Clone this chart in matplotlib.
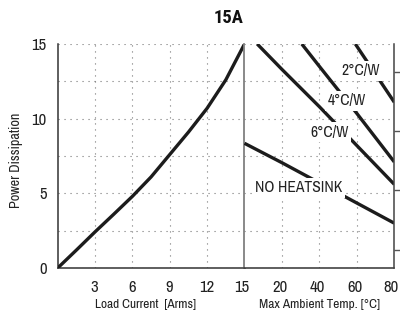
import numpy as np
import matplotlib
matplotlib.use("Agg")
import matplotlib.pyplot as plt
from matplotlib import font_manager as fm
from matplotlib.transforms import offset_copy

# ---------------- data ----------------
title = "15A"
# left panel: power dissipation vs load current
load_current = [0, 1.5, 3, 4.5, 6, 7.5, 9, 10.5, 12, 13.5, 15]
power_curve = [0, 1.2, 2.42, 3.6, 4.8, 6.1, 7.6, 9.1, 10.7, 12.6, 15]
left_xticks = [3, 6, 9, 12, 15]

# right panel: derating lines vs max ambient temperature
temp_ticks = [15, 20, 40, 60, 80]
right_xticks = [20, 40, 60, 80]

six_cw_temp = [16.7, 20, 40, 60, 80]
six_cw_power = [15.0, 13.3, 10.8, 8.2, 5.6]
four_cw_temp = [30.6, 40, 60, 80]
four_cw_power = [15.0, 13.5, 10.35, 7.1]
two_cw_temp = [59.2, 60, 80]
two_cw_power = [15.0, 14.85, 11.1]
nohs_temp = [15, 20, 40, 60, 80]
nohs_power = [8.35, 7.05, 5.7, 4.35, 3.0]

y_ticks = [0, 5, 10, 15]
y_grid = [0, 2.5, 5, 7.5, 10, 12.5, 15]
right_ticks = [13.1, 9.2, 5.22, 1.2]

labels = ["2°C/W", "4°C/W", "6°C/W", "NO HEATSINK"]
label_temp = [61.8, 54.6, 45.3, 29.0]
label_power = [13.2, 11.19, 9.08, 5.39]

xlabel_left = "Load Current  [Arms]"
xlabel_right = "Max Ambient Temp. [°C]"
ylabel = "Power Dissipation"

# ---------------- font selection (narrow face) ----------------
ttf = fm.fontManager.ttflist
names = {f.name for f in ttf}
pref = ["Liberation Sans Narrow", "Arial Narrow", "Archivo Narrow", "Roboto Condensed",
        "PT Sans Narrow", "Asap Condensed", "Barlow Condensed", "DejaVu Sans Condensed"]
main = next((n for n in pref if n in names), "DejaVu Sans")
FAMILY = [main, "DejaVu Sans"]
plt.rcParams["font.family"] = FAMILY


def is_bold(w):
    if isinstance(w, str):
        return w.lower() in ("bold", "heavy", "black", "extra bold", "ultrabold", "demibold", "semibold")
    try:
        return int(w) >= 600
    except Exception:
        return False


bold_pref = [main] + [n for n in pref if n != main]
bold_fam = next((n for n in bold_pref
                 if any(f.name == n and is_bold(f.weight) and f.style == "normal" for f in ttf)),
                "DejaVu Sans")
TITLE_FAMILY = [bold_fam, "DejaVu Sans"]

LINE_C = "#1c1c1c"
TXT_C = "#222222"
GRID_KW = dict(color="#777777", linestyle=(0, (1, 4.4)), linewidth=0.8)

W, H = 400, 313
fig = plt.figure(figsize=(W / 100, H / 100), dpi=100)
renderer = fig.canvas.get_renderer()


def fit_size(s, target_px, base=10.0, **kw):
    t = fig.text(0, 0, s, fontsize=base, **kw)
    w = t.get_window_extent(renderer).width
    t.remove()
    return base * target_px / max(w, 1e-6)


TICK_FS = min(fit_size("80", 15.0), 12.5)
LAB_FS = fit_size("NO HEATSINK", 87.0)
AXL_FS = fit_size(xlabel_right, 121.0)
YL_FS = fit_size(ylabel, 95.0)
TITLE_FS = min(fit_size(title, 30.0, fontweight="bold", family=TITLE_FAMILY), 15.0)

x0, xd, x1 = 57.7, 244.5, 394.3
ytop, ybot = 44.0, 268.0
ax1 = fig.add_axes([x0 / W, (H - ybot) / H, (xd - x0) / W, (ybot - ytop) / H])
ax2 = fig.add_axes([xd / W, (H - ybot) / H, (x1 - xd) / W, (ybot - ytop) / H])

pos = [0, 1, 2, 3, 4]


def fwd(t):
    t = np.asarray(t, float)
    y = np.interp(t, temp_ticks, pos)
    y = np.where(t < temp_ticks[0], (t - temp_ticks[0]) / 5.0, y)
    y = np.where(t > temp_ticks[-1], 4 + (t - temp_ticks[-1]) / 20.0, y)
    return y


def inv(p):
    p = np.asarray(p, float)
    t = np.interp(p, pos, temp_ticks)
    t = np.where(p < 0, temp_ticks[0] + p * 5.0, t)
    t = np.where(p > 4, temp_ticks[-1] + (p - 4) * 20.0, t)
    return t


# left panel
ax1.plot(load_current, power_curve, color=LINE_C, lw=2.4, solid_capstyle="butt",
         solid_joinstyle="round", zorder=3)
ax1.set_xlim(0, 15)
ax1.set_ylim(0, 15)
ax1.set_xticks(left_xticks)
ax1.set_xticklabels([])
ax1.set_yticks(y_grid)
ax1.set_yticklabels([str(int(v)) if v in y_ticks else "" for v in y_grid])
ax1.tick_params(axis="both", length=0, labelsize=TICK_FS, colors=TXT_C)
ax1.tick_params(axis="y", pad=8)
ax1.grid(True, **GRID_KW)
ax1.set_axisbelow(True)
for s in ["top", "right"]:
    ax1.spines[s].set_visible(False)
for s in ["left", "bottom"]:
    ax1.spines[s].set_color("#333333")
    ax1.spines[s].set_linewidth(1.1)

# right panel
ax2.set_xscale("function", functions=(fwd, inv))
ax2.set_xlim(15, 80)
ax2.set_ylim(0, 15)
for tt, pp in [(six_cw_temp, six_cw_power), (four_cw_temp, four_cw_power),
               (two_cw_temp, two_cw_power), (nohs_temp, nohs_power)]:
    ax2.plot(tt, pp, color=LINE_C, lw=2.4, solid_capstyle="butt", zorder=3)
ax2.set_xticks(right_xticks)
ax2.set_xticklabels([])
ax2.xaxis.set_minor_locator(matplotlib.ticker.NullLocator())
ax2.set_yticks(y_grid)
ax2.set_yticklabels([])
ax2.tick_params(axis="both", length=0)
ax2.grid(True, **GRID_KW)
ax2.set_axisbelow(True)
ax2.spines["top"].set_visible(False)
ax2.spines["right"].set_visible(False)
ax2.spines["left"].set_color("#808080")
ax2.spines["left"].set_linewidth(1.3)
ax2.spines["bottom"].set_color("#333333")
ax2.spines["bottom"].set_linewidth(1.1)

# x tick labels (baseline ~23.7 px below axis; small left nudges like the original)
BASE_DY = -23.7
for v in left_xticks:
    dx = -2.5 if v == left_xticks[-1] else -0.5
    tr = offset_copy(ax1.get_xaxis_transform(), fig=fig, x=dx, y=BASE_DY, units="dots")
    ax1.text(v, 0, str(v), transform=tr, ha="center", va="baseline",
             fontsize=TICK_FS, color=TXT_C, clip_on=False)
for v in right_xticks:
    dx = -3.5 if v == right_xticks[-1] else -1.8
    tr = offset_copy(ax2.get_xaxis_transform(), fig=fig, x=dx, y=BASE_DY, units="dots")
    ax2.text(v, 0, str(v), transform=tr, ha="center", va="baseline",
             fontsize=TICK_FS, color=TXT_C, clip_on=False)

for lab, lt, lp in zip(labels, label_temp, label_power):
    ax2.text(lt, lp, lab, ha="center", va="center", fontsize=LAB_FS, color=TXT_C,
             zorder=5, bbox=dict(facecolor="white", edgecolor="none", pad=1.8))

ax3 = ax2.twinx()
ax3.set_ylim(0, 15)
ax3.set_yticks(right_ticks)
ax3.set_yticklabels([])
ax3.tick_params(axis="y", direction="out", length=6, width=1, colors="#555555")
for s in ["top", "left", "bottom"]:
    ax3.spines[s].set_visible(False)
ax3.spines["right"].set_color("#444444")
ax3.spines["right"].set_linewidth(1.1)

# texts
fig.text(228.3 / W, 1 - 23.3 / H, title, ha="center", va="baseline", fontsize=TITLE_FS,
         fontweight="bold", family=TITLE_FAMILY, color="#111111")
fig.text(145.5 / W, 1 - 308.5 / H, xlabel_left, ha="center", va="baseline",
         fontsize=AXL_FS, color=TXT_C)
fig.text(319.5 / W, 1 - 308.5 / H, xlabel_right, ha="center", va="baseline",
         fontsize=AXL_FS, color=TXT_C)
fig.text(16.5 / W, 1 - 160.5 / H, ylabel, ha="center", va="center",
         rotation=90, fontsize=YL_FS, color=TXT_C)

fig.savefig("out.png", dpi=100)
